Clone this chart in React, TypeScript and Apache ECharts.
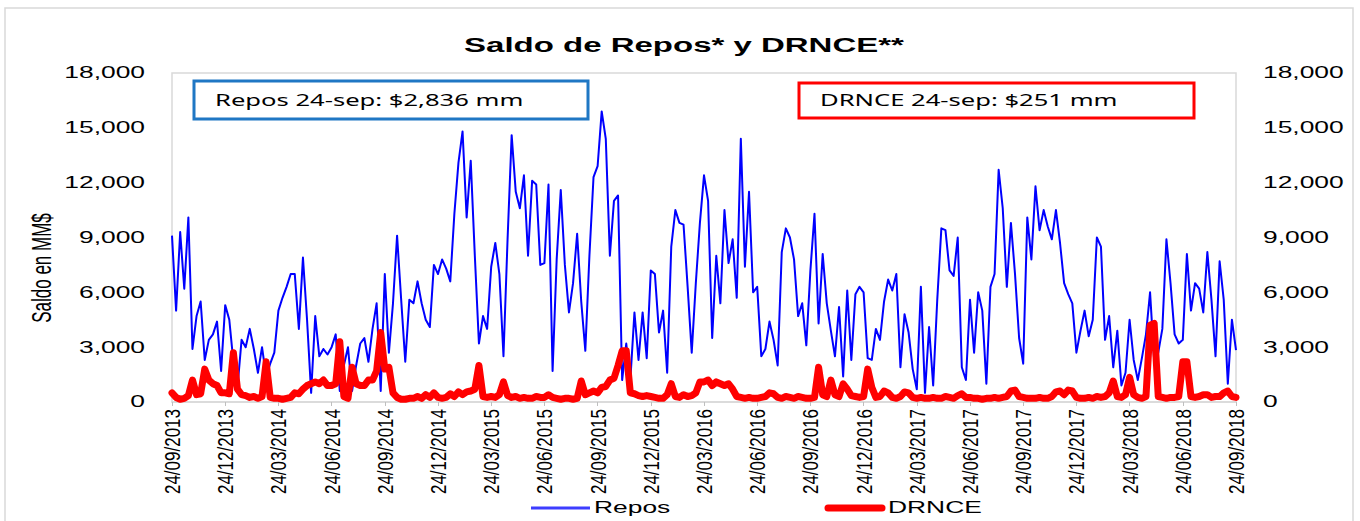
import { useEffect, useRef } from 'react';
import * as echarts from 'echarts';

const tickLabels = [
  '24/09/2013', '24/12/2013', '24/03/2014', '24/06/2014', '24/09/2014', '24/12/2014', '24/03/2015',
  '24/06/2015', '24/09/2015', '24/12/2015', '24/03/2016', '24/06/2016', '24/09/2016', '24/12/2016',
  '24/03/2017', '24/06/2017', '24/09/2017', '24/12/2017', '24/03/2018', '24/06/2018', '24/09/2018',
];
const yTicks = [0, 3000, 6000, 9000, 12000, 15000, 18000];
const seriesNames = ['Repos', 'DRNCE'];
const boxTexts = ['Repos 24-sep: $2,836 mm', 'DRNCE 24-sep: $251 mm'];

// Saldo de Repos (MM$), 13 samples per quarter
const reposP1 = [
  9100, 5000, 9300, 6200, 10100, 2900, 4700, 5500, 2300, 3400, 3700, 4400, 1700,
  5300, 4500, 2200, 800, 3400, 3000, 4000, 2900, 1600, 3000, 1400, 2100, 2700,
  5000, 5700, 6300, 7000, 7000, 4000, 7900, 4500, 500, 4700, 2500, 2900, 2600,
  3000, 3700, 600, 2000, 3000, 600, 2000, 3200, 3500, 2200, 4000, 5400, 600,
];
const reposP2 = [
  7000, 2700, 5400, 9100, 5600, 2200, 5600, 5400, 6600, 5400, 4500, 4100, 7500,
  7000, 7800, 7300, 6600, 10300, 13100, 14800, 10100, 13200, 8000, 3200, 4700, 4000,
  7400, 8700, 7000, 2500, 8900, 14600, 11500, 10600, 12400, 8000, 12100, 11900, 7500,
  7600, 11900, 1700, 7800, 11600, 7500, 4900, 6500, 9200, 5500, 2800, 8000, 12300,
];
const reposP3 = [
  12900, 15900, 14400, 8000, 11000, 11300, 1200, 3200, 1200, 4900, 2300, 4900, 2400,
  7200, 7000, 3800, 5000, 1600, 8500, 10500, 9800, 9700, 6300, 2700, 6500, 9800,
  12400, 11000, 3500, 8000, 5400, 10500, 7600, 8900, 5700, 14400, 7400, 11500, 6000,
  6300, 2500, 2900, 4400, 3400, 2000, 8200, 9500, 9000, 7800, 4700, 5400, 3100,
];
const reposP4 = [
  7200, 10300, 4300, 8100, 5400, 3900, 2500, 5200, 1400, 6100, 2300, 5900, 6300,
  6000, 2400, 2300, 4000, 3400, 5500, 6700, 6100, 7000, 1900, 4800, 3800, 1800,
  700, 6300, 500, 4100, 900, 5600, 9500, 9400, 7200, 6900, 9000, 1900, 1200,
  5600, 2700, 6000, 5000, 1000, 6300, 7000, 12700, 10600, 6300, 9800, 7000, 3500,
];
const reposP5 = [
  2100, 10100, 7800, 11800, 9400, 10500, 9600, 8900, 10500, 8700, 6500, 5900, 5400,
  2700, 3900, 5000, 3600, 4500, 9000, 8500, 3400, 4700, 1900, 3900, 900, 1600,
  4500, 2300, 1200, 2400, 3700, 6000, 2300, 2700, 4000, 8900, 6500, 3700, 3200,
  3400, 8100, 5000, 6500, 6200, 4900, 8200, 5600, 2500, 7700, 5600, 1000, 4500,
  2836,
];

// Saldo DRNCE (MM$)
const drnceP1 = [
  500, 250, 150, 200, 350, 1200, 400, 450, 1800, 1200, 1000, 900, 500,
  500, 450, 2700, 700, 400, 350, 250, 300, 200, 300, 2200, 250, 200,
  200, 150, 200, 250, 500, 450, 700, 900, 1000, 1100, 1000, 1200, 900,
  900, 1000, 3300, 300, 200, 1900, 1000, 900, 900, 1200, 1200, 1700, 3800,
];
const drnceP2 = [
  1800, 1900, 500, 250, 150, 150, 200, 200, 300, 200, 400, 250, 500,
  250, 200, 250, 450, 300, 550, 400, 550, 600, 700, 2000, 300, 250,
  300, 250, 400, 1100, 350, 250, 300, 200, 250, 200, 200, 300, 250,
  250, 400, 250, 200, 150, 200, 200, 150, 200, 1150, 400, 500, 600,
];
const drnceP3 = [
  500, 800, 850, 1200, 1300, 2000, 2800, 2800, 500, 450, 350, 300, 350,
  300, 250, 200, 200, 400, 1000, 300, 250, 400, 300, 350, 500, 1100,
  1100, 1200, 900, 1100, 1000, 900, 1000, 700, 300, 250, 200, 250, 200,
  200, 250, 300, 500, 450, 250, 200, 300, 250, 200, 300, 250, 200,
];
const drnceP4 = [
  200, 250, 1900, 400, 300, 1200, 400, 300, 1000, 700, 350, 300, 250,
  300, 1800, 800, 250, 300, 600, 500, 250, 200, 300, 550, 500, 250,
  200, 250, 200, 200, 250, 200, 200, 300, 250, 200, 350, 450, 250,
  250, 200, 200, 150, 200, 200, 250, 200, 250, 300, 600, 650, 300,
];
const drnceP5 = [
  250, 200, 200, 200, 250, 200, 200, 300, 550, 600, 400, 650, 600,
  250, 200, 200, 250, 200, 300, 250, 300, 500, 1150, 300, 250, 400,
  1350, 400, 250, 200, 300, 4200, 4300, 300, 250, 200, 250, 250, 300,
  2200, 2200, 300, 250, 300, 400, 400, 250, 300, 300, 500, 600, 300,
  251,
];

const PER_Q = 13;
const FONT = '"Liberation Sans", Arial, sans-serif';
const SX = 1.65;

export default function App() {
  const ref = useRef<HTMLDivElement>(null);

  useEffect(() => {
    document.body.style.margin = '0';
    const el = ref.current!;
    const chart = echarts.init(el, null, { renderer: 'svg' });

    const repos = [...reposP1, ...reposP2, ...reposP3, ...reposP4, ...reposP5];
    const drnce = [...drnceP1, ...drnceP2, ...drnceP3, ...drnceP4, ...drnceP5];
    const categories = repos.map((_, i) => {
      const q = Math.floor(i / PER_Q);
      const k = i % PER_Q;
      return k === 0 ? tickLabels[q] : `${tickLabels[q]}+${k * 7}d`;
    });

    const yAxisBase = {
      type: 'value',
      min: 0,
      max: 18000,
      interval: 3000,
      axisLabel: { show: false },
      axisLine: { show: false },
      axisTick: { show: false },
      splitLine: { show: false },
    };

    chart.setOption({
      animation: false,
      backgroundColor: '#ffffff',
      grid: {
        left: 172,
        right: 124,
        top: 73,
        bottom: 119,
        show: true,
        borderColor: '#d9d9d9',
        borderWidth: 1.5,
        backgroundColor: 'transparent',
      },
      xAxis: {
        type: 'category',
        data: categories,
        boundaryGap: false,
        axisLine: { lineStyle: { color: '#d9d9d9', width: 1.5 } },
        axisTick: { show: true, interval: PER_Q - 1, length: 4, lineStyle: { color: '#bfbfbf' } },
        axisLabel: { show: false },
        splitLine: { show: false },
      },
      yAxis: [yAxisBase, { ...yAxisBase, position: 'right' }],
      series: [
        {
          name: seriesNames[0],
          type: 'line',
          data: repos,
          yAxisIndex: 0,
          symbol: 'none',
          showSymbol: false,
          lineStyle: { color: '#0000ff', width: 2, join: 'round' },
          itemStyle: { color: '#0000ff' },
          z: 2,
        },
        {
          name: seriesNames[1],
          type: 'line',
          data: drnce,
          yAxisIndex: 1,
          symbol: 'none',
          showSymbol: false,
          lineStyle: { color: '#ff0000', width: 7, cap: 'round', join: 'round' },
          itemStyle: { color: '#ff0000' },
          z: 3,
        },
      ],
    });

    const txt = (
      x: number,
      y: number,
      text: string,
      opts: { size?: number; weight?: string; align?: string; vAlign?: string; sx?: number; sy?: number; rot?: number; family?: string; color?: string } = {},
    ) => ({
      type: 'text',
      x,
      y,
      z: 100,
      rotation: opts.rot || 0,
      scaleX: opts.sx ?? 1,
      scaleY: opts.sy ?? 1,
      silent: true,
      style: {
        text,
        fill: opts.color || '#000000',
        font: `${opts.weight || 'normal'} ${opts.size || 16}px ${opts.family || FONT}`,
        align: opts.align || 'left',
        textAlign: opts.align || 'left',
        verticalAlign: opts.vAlign || 'middle',
        textVerticalAlign: opts.vAlign || 'middle',
      },
    });

    const graphics: any[] = [];
    graphics.push({
      type: 'rect',
      z: 1,
      silent: true,
      shape: { x: 5, y: 8, width: 1348, height: 540 },
      style: { fill: 'none', stroke: '#d9d9d9', lineWidth: 1.5 },
    });
    graphics.push(txt(684, 45, 'Saldo de Repos* y DRNCE**', { size: 20, weight: 'bold', align: 'center', sx: SX }));
    graphics.push(txt(41, 268, 'Saldo en MM$', { size: 17, align: 'center', rot: Math.PI / 2, sy: SX }));
    yTicks.forEach((v) => {
      const py = chart.convertToPixel({ yAxisIndex: 0 }, v) as number;
      const label = v.toLocaleString('en-US');
      graphics.push(txt(145, py, label, { size: 16, align: 'right', sx: SX }));
      graphics.push(txt(1263, py, label, { size: 16, align: 'left', sx: SX }));
    });
    tickLabels.forEach((lab, i) => {
      const px = chart.convertToPixel({ xAxisIndex: 0 }, i * PER_Q) as number;
      graphics.push(txt(px, 409, lab, { size: 17, align: 'right', rot: Math.PI / 2, sy: 1.35 }));
    });
    graphics.push({
      type: 'rect',
      z: 90,
      silent: true,
      shape: { x: 194, y: 81, width: 394, height: 38 },
      style: { fill: '#ffffff', stroke: '#1f77c4', lineWidth: 3 },
    });
    graphics.push(txt(215, 100, boxTexts[0], { size: 16, align: 'left', sx: 1.6, family: '"Noto Sans", "Open Sans", sans-serif' }));
    graphics.push({
      type: 'rect',
      z: 90,
      silent: true,
      shape: { x: 799, y: 83, width: 395, height: 35 },
      style: { fill: '#ffffff', stroke: '#ff0000', lineWidth: 3 },
    });
    graphics.push(txt(820, 100, boxTexts[1], { size: 16, align: 'left', sx: 1.6, family: '"Noto Sans", "Open Sans", sans-serif' }));
    graphics.push({
      type: 'line',
      z: 100,
      silent: true,
      shape: { x1: 531, y1: 508, x2: 590, y2: 508 },
      style: { stroke: '#3d3dff', lineWidth: 3 },
    });
    graphics.push(txt(594, 508, seriesNames[0], { size: 16, align: 'left', sx: SX }));
    graphics.push({
      type: 'line',
      z: 100,
      silent: true,
      shape: { x1: 828, y1: 508, x2: 882, y2: 508 },
      style: { stroke: '#ff0000', lineWidth: 7, lineCap: 'round' },
    });
    graphics.push(txt(888, 508, seriesNames[1], { size: 16, align: 'left', sx: SX }));

    chart.setOption({ graphic: graphics });

    return () => {
      chart.dispose();
    };
  }, []);

  return (
    <div
      ref={ref}
      style={{ position: 'absolute', left: 0, top: 0, width: 1360, height: 521 }}
    />
  );
}
